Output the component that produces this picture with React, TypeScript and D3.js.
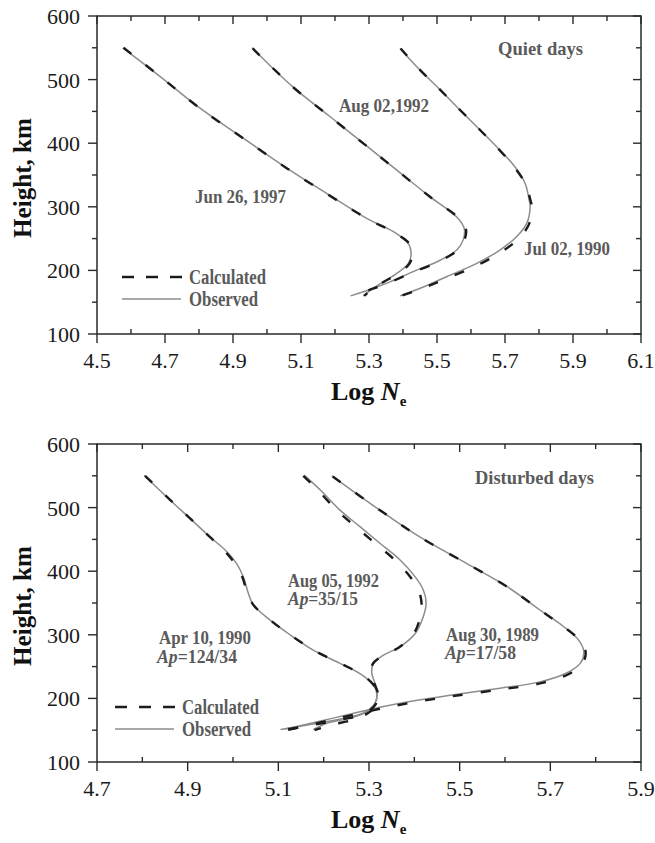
import React from "react";
import * as d3 from "d3";

type Pt = [number, number]; // [log Ne, height km]

// ---- Quiet days (top panel) ----
const jun1997Obs: Pt[] = [[4.576, 550], [4.685, 505], [4.803, 455], [4.930, 408], [5.058, 361], [5.185, 318], [5.244, 298], [5.303, 279], [5.350, 267], [5.381, 258], [5.416, 242], [5.424, 227], [5.416, 211], [5.381, 195], [5.342, 182], [5.313, 172], [5.283, 160]];
const jun1997Calc: Pt[] = [[4.578, 550], [4.688, 504], [4.805, 454], [4.932, 407], [5.060, 360], [5.186, 317], [5.246, 297], [5.306, 278], [5.352, 266], [5.385, 256], [5.420, 241], [5.428, 226], [5.418, 210], [5.382, 194], [5.340, 181], [5.310, 171], [5.286, 160]];
const aug1992Obs: Pt[] = [[4.956, 550], [5.075, 489], [5.185, 442], [5.283, 400], [5.381, 358], [5.479, 316], [5.558, 284], [5.580, 266], [5.577, 248], [5.558, 232], [5.509, 216], [5.430, 198], [5.362, 182], [5.313, 172], [5.246, 160]];
const aug1992Calc: Pt[] = [[4.958, 549], [5.077, 488], [5.187, 441], [5.285, 399], [5.383, 357], [5.481, 315], [5.562, 283], [5.585, 265], [5.580, 247], [5.556, 230], [5.505, 214], [5.425, 196], [5.356, 180], [5.305, 170], [5.252, 160]];
const jul1990Obs: Pt[] = [[5.391, 549], [5.450, 515], [5.509, 484], [5.568, 452], [5.626, 421], [5.685, 389], [5.729, 363], [5.759, 337], [5.771, 311], [5.774, 300], [5.764, 274], [5.734, 253], [5.685, 232], [5.617, 211], [5.528, 190], [5.460, 174], [5.391, 160]];
const jul1990Calc: Pt[] = [[5.393, 549], [5.452, 514], [5.511, 483], [5.570, 451], [5.628, 420], [5.686, 388], [5.728, 362], [5.760, 336], [5.775, 310], [5.780, 298], [5.770, 272], [5.742, 251], [5.692, 230], [5.622, 209], [5.532, 188], [5.463, 173], [5.395, 160]];

// ---- Disturbed days (bottom panel) ----
const apr1990Obs: Pt[] = [[4.804, 551], [4.861, 512], [4.905, 483], [4.949, 454], [4.986, 431], [5.008, 412], [5.023, 391], [5.034, 365], [5.045, 347], [5.082, 323], [5.126, 300], [5.177, 276], [5.236, 255], [5.280, 239], [5.306, 224], [5.317, 208], [5.313, 192], [5.288, 177], [5.240, 168], [5.180, 160], [5.105, 151]];
const apr1990Calc: Pt[] = [[4.806, 550], [4.863, 511], [4.907, 482], [4.950, 453], [4.984, 430], [5.005, 411], [5.021, 390], [5.032, 365], [5.046, 346], [5.084, 322], [5.128, 299], [5.180, 275], [5.240, 254], [5.283, 238], [5.308, 223], [5.320, 207], [5.315, 191], [5.290, 176], [5.242, 167], [5.182, 159], [5.110, 150]];
const aug1992dObs: Pt[] = [[5.157, 551], [5.192, 528], [5.236, 496], [5.280, 470], [5.324, 444], [5.368, 418], [5.402, 391], [5.420, 370], [5.426, 350], [5.420, 329], [5.402, 302], [5.368, 281], [5.332, 268], [5.310, 255], [5.306, 240], [5.313, 224], [5.318, 208], [5.313, 192], [5.295, 179], [5.258, 169], [5.207, 161], [5.177, 151]];
const aug1992dCalc: Pt[] = [[5.155, 550], [5.188, 527], [5.230, 495], [5.272, 469], [5.315, 443], [5.358, 417], [5.392, 390], [5.410, 369], [5.416, 349], [5.413, 328], [5.398, 301], [5.366, 280], [5.330, 267], [5.308, 254], [5.304, 239], [5.312, 223], [5.320, 207], [5.316, 190], [5.298, 177], [5.262, 166], [5.215, 158], [5.180, 150]];
const aug1989Obs: Pt[] = [[5.218, 550], [5.324, 496], [5.412, 454], [5.516, 412], [5.604, 376], [5.677, 339], [5.729, 313], [5.762, 292], [5.774, 273], [5.766, 255], [5.736, 240], [5.677, 226], [5.589, 216], [5.479, 205], [5.390, 195], [5.324, 186], [5.280, 179], [5.221, 169], [5.148, 157], [5.115, 152]];
const aug1989Calc: Pt[] = [[5.220, 549], [5.326, 495], [5.414, 453], [5.518, 411], [5.606, 375], [5.679, 338], [5.731, 312], [5.765, 291], [5.778, 272], [5.770, 254], [5.740, 238], [5.680, 224], [5.590, 214], [5.480, 203], [5.392, 193], [5.326, 184], [5.282, 177], [5.222, 167], [5.150, 155], [5.118, 150]];

// ---- ticks ----
const quietTicks = [4.5, 4.7, 4.9, 5.1, 5.3, 5.5, 5.7, 5.9, 6.1];
const quietMinor = [4.6, 4.8, 5.0, 5.2, 5.4, 5.6, 5.8, 6.0];
const disturbedTicks = [4.7, 4.9, 5.1, 5.3, 5.5, 5.7, 5.9];
const disturbedMinor = [4.8, 5.0, 5.2, 5.4, 5.6, 5.8];
const heightTicks = [100, 200, 300, 400, 500, 600];
const heightMinor = [150, 250, 350, 450, 550];

const SERIF = "'Liberation Serif', 'Times New Roman', serif";
const LABEL = "#5a5a5a";
const W = 544;
const H = 318;

type Label = { x: number; y: number; len: number; text: string; ap?: string };

const quietLabels: Label[] = [
  { x: 401, y: 39, len: 85, text: "Quiet days" },
  { x: 242, y: 96, len: 90, text: "Aug 02,1992" },
  { x: 427, y: 239, len: 86, text: "Jul 02, 1990" },
  { x: 98, y: 187, len: 91, text: "Jun 26, 1997" },
];
const disturbedLabels: Label[] = [
  { x: 378, y: 40, len: 119, text: "Disturbed days" },
  { x: 191, y: 143, len: 91, text: "Aug 05, 1992" },
  { x: 191, y: 161, len: 70, text: "", ap: "=35/15" },
  { x: 62, y: 200, len: 92, text: "Apr 10, 1990" },
  { x: 60, y: 219, len: 80, text: "", ap: "=124/34" },
  { x: 349, y: 197, len: 93, text: "Aug 30, 1989" },
  { x: 348, y: 215, len: 71, text: "", ap: "=17/58" },
];

type PanelProps = {
  top: number;
  domain: [number, number];
  ticks: number[];
  minor: number[];
  obs: Pt[][];
  calc: Pt[][];
  labels: Label[];
  legend: { x: number; y: number };
};

function Panel({ top, domain, ticks, minor, obs, calc, labels, legend }: PanelProps) {
  const left = 97;
  const x = d3.scaleLinear().domain(domain).range([0, W]);
  const y = d3.scaleLinear().domain([100, 600]).range([H, 0]);
  const line = d3
    .line<Pt>()
    .x((d) => x(d[0]))
    .y((d) => y(d[1]))
    .curve(d3.curveCatmullRom.alpha(0.5));
  const ax = "#2a2a2a";
  return (
    <g transform={`translate(${left},${top})`}>
      {/* frame */}
      <rect x={0} y={0} width={W} height={H} fill="none" stroke={ax} strokeWidth={1.5} />
      {/* x ticks */}
      {ticks.map((t) => (
        <g key={"xt" + t}>
          <line x1={x(t)} x2={x(t)} y1={H} y2={H + 9} stroke={ax} strokeWidth={1.4} />
          <line x1={x(t)} x2={x(t)} y1={0} y2={8} stroke={ax} strokeWidth={1.4} />
          <text x={x(t)} y={H + 34} textAnchor="middle" fontSize={22} fontFamily={SERIF} fill="#1a1a1a">
            {t.toFixed(1)}
          </text>
        </g>
      ))}
      {minor.map((t) => (
        <g key={"xm" + t}>
          <line x1={x(t)} x2={x(t)} y1={H} y2={H - 5} stroke={ax} strokeWidth={1.4} />
          <line x1={x(t)} x2={x(t)} y1={0} y2={5} stroke={ax} strokeWidth={1.4} />
        </g>
      ))}
      {/* y ticks */}
      {heightTicks.map((t) => (
        <g key={"yt" + t}>
          <line x1={-9} x2={0} y1={y(t)} y2={y(t)} stroke={ax} strokeWidth={1.4} />
          <line x1={W - 8} x2={W} y1={y(t)} y2={y(t)} stroke={ax} strokeWidth={1.4} />
          <text x={-17} y={y(t) + 8} textAnchor="end" fontSize={22} fontFamily={SERIF} fill="#1a1a1a">
            {t}
          </text>
        </g>
      ))}
      {heightMinor.map((t) => (
        <g key={"ym" + t}>
          <line x1={-5} x2={0} y1={y(t)} y2={y(t)} stroke={ax} strokeWidth={1.4} />
          <line x1={W - 5} x2={W} y1={y(t)} y2={y(t)} stroke={ax} strokeWidth={1.4} />
        </g>
      ))}
      {/* axis titles */}
      <text
        transform={`translate(${31 - left},${H / 2 + 3}) rotate(-90)`}
        textAnchor="middle"
        fontSize={26}
        fontWeight="bold"
        fontFamily={SERIF}
        fill="#111"
        textLength={120}
        lengthAdjust="spacingAndGlyphs"
      >
        Height, km
      </text>
      <text x={W / 2 - 38} y={H + 66} fontSize={26} fontWeight="bold" fontFamily={SERIF} fill="#111">
        Log <tspan fontStyle="italic">N</tspan>
        <tspan fontSize={15} dy={6}>e</tspan>
      </text>
      {/* curves */}
      {obs.map((s, i) => (
        <path key={"o" + i} d={line(s) || ""} fill="none" stroke="#8c8c8c" strokeWidth={1.5} />
      ))}
      {calc.map((s, i) => (
        <path key={"c" + i} d={line(s) || ""} fill="none" stroke="#1c1c1c" strokeWidth={2.4} strokeDasharray="10 18" />
      ))}
      {/* labels */}
      {labels.map((l, i) => (
        <text
          key={"l" + i}
          x={l.x}
          y={l.y}
          fontSize={19}
          fontWeight="bold"
          fontFamily={SERIF}
          fill={LABEL}
          textLength={l.len}
          lengthAdjust="spacingAndGlyphs"
        >
          {l.ap ? (
            <>
              <tspan fontStyle="italic">Ap</tspan>
              {l.ap}
            </>
          ) : (
            l.text
          )}
        </text>
      ))}
      {/* legend */}
      <line x1={legend.x} x2={legend.x + 60} y1={legend.y} y2={legend.y} stroke="#1c1c1c" strokeWidth={2.6} strokeDasharray="12 12" />
      <text x={legend.x + 67} y={legend.y + 7} fontSize={20} fontWeight="bold" fontFamily={SERIF} fill={LABEL} textLength={77} lengthAdjust="spacingAndGlyphs">
        Calculated
      </text>
      <line x1={legend.x} x2={legend.x + 59} y1={legend.y + 22} y2={legend.y + 22} stroke="#8c8c8c" strokeWidth={1.6} />
      <text x={legend.x + 67} y={legend.y + 29} fontSize={20} fontWeight="bold" fontFamily={SERIF} fill={LABEL} textLength={69} lengthAdjust="spacingAndGlyphs">
        Observed
      </text>
    </g>
  );
}

export default function App() {
  return (
    <svg width={655} height={843} style={{ position: "absolute", left: 0, top: 0, background: "#fff" }}>
      <rect width={655} height={843} fill="#fff" />
      <Panel
        top={16}
        domain={[4.5, 6.1]}
        ticks={quietTicks}
        minor={quietMinor}
        obs={[jun1997Obs, aug1992Obs, jul1990Obs]}
        calc={[jun1997Calc, aug1992Calc, jul1990Calc]}
        labels={quietLabels}
        legend={{ x: 25, y: 261 }}
      />
      <Panel
        top={444}
        domain={[4.7, 5.9]}
        ticks={disturbedTicks}
        minor={disturbedMinor}
        obs={[apr1990Obs, aug1992dObs, aug1989Obs]}
        calc={[apr1990Calc, aug1992dCalc, aug1989Calc]}
        labels={disturbedLabels}
        legend={{ x: 18, y: 263 }}
      />
    </svg>
  );
}
